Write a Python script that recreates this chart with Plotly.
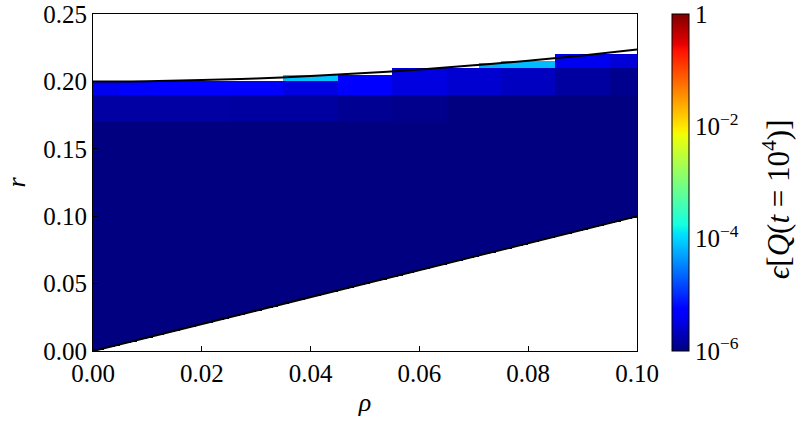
import numpy as np
import plotly.graph_objects as go

# ---- boundary curves of the admissible region ----
rho_bound = [0.00, 0.01, 0.02, 0.03, 0.04, 0.05, 0.06, 0.07, 0.08, 0.09, 0.10]
r_upper = [0.2000, 0.2002, 0.2010, 0.2022, 0.2040, 0.2062, 0.2088, 0.2119, 0.2154, 0.2193, 0.2236]
r_lower = [0.00, 0.01, 0.02, 0.03, 0.04, 0.05, 0.06, 0.07, 0.08, 0.09, 0.10]

# ---- coarse cells of the error map: per column, top edge and bands (lower edge, log10 eps) ----
col_edges = [0.000, 0.005, 0.015, 0.025, 0.035, 0.045, 0.055, 0.065, 0.071, 0.075, 0.085, 0.095, 0.100]
top_hi = [0.1998, 0.1998, 0.1998, 0.1998, 0.2055, 0.2048, 0.2100, 0.2100, 0.2138, 0.2153, 0.2203, 0.2200]
top_lo = [0.190, 0.190, 0.190, 0.190, 0.1998, 0.190, 0.190, 0.190, 0.2101, 0.2101, 0.210, 0.210]
top_val = [-5.42, -5.33, -5.33, -5.33, -4.10, -5.32, -5.50, -5.58, -4.20, -4.15, -5.42, -5.55]
mid_lo = [0.170, 0.170, 0.170, 0.170, 0.190, 0.170, 0.170, 0.190, 0.190, 0.190, 0.190, 0.190]
mid_val = [-5.82, -5.82, -5.82, -5.83, -5.50, -5.90, -5.94, -6.00, -5.58, -5.67, -5.83, -5.92]
low_lo = [0.170, 0.170, 0.170, 0.170, 0.170, 0.170, 0.170, 0.190, 0.190, 0.190, 0.190, 0.190]
low_val = [-6.00, -6.00, -6.00, -6.00, -5.83, -6.00, -6.00, -6.00, -6.00, -6.00, -6.00, -6.00]
bulk_val = -6.0

cbar_vals = [-6, -4, -2, 0]
cbar_text = ["10<sup>\u22126</sup>", "10<sup>\u22124</sup>", "10<sup>\u22122</sup>", "1"]

# ---- build the fine table for the heatmap from the arrays above ----
step = 0.001
xc = np.arange(0.0, 0.1, step) + step / 2
yc = np.arange(0.0, 0.25, step) + step / 2
edges = np.array(col_edges)
z = np.full((len(yc), len(xc)), np.nan)
for j, x in enumerate(xc):
    c = min(np.searchsorted(edges, x) - 1, len(top_lo) - 1)
    lo = np.interp(x, rho_bound, r_lower)
    for i, y in enumerate(yc):
        if y < lo or y > top_hi[c]:
            continue
        if y >= top_lo[c]:
            z[i, j] = top_val[c]
        elif y >= mid_lo[c]:
            z[i, j] = mid_val[c]
        elif y >= low_lo[c]:
            z[i, j] = low_val[c]
        else:
            z[i, j] = bulk_val

# matplotlib "jet" colour map
rs = [(0, 0), (0.35, 0), (0.66, 1), (0.89, 1), (1, 0.5)]
gs = [(0, 0), (0.125, 0), (0.375, 1), (0.64, 1), (0.91, 0), (1, 0)]
bs = [(0, 0.5), (0.11, 1), (0.34, 1), (0.65, 0), (1, 0)]
stops = sorted(set([p for p, _ in rs + gs + bs]))
def ch(seg, t):
    return np.interp(t, [p for p, _ in seg], [v for _, v in seg])
jet = [[t, "rgb(%d,%d,%d)" % (round(255 * ch(rs, t)), round(255 * ch(gs, t)), round(255 * ch(bs, t)))] for t in stops]

FONT = "'Liberation Serif', 'Times New Roman', serif"

fig = go.Figure()
fig.add_trace(go.Heatmap(
    x=xc, y=yc, z=z, zmin=-6, zmax=0, colorscale=jet, hoverongaps=False,
    colorbar=dict(
        x=1.0645, xanchor="left", xpad=0, y=0.5, yanchor="middle", len=1.0, lenmode="fraction",
        thickness=17, outlinecolor="black", outlinewidth=1,
        tickvals=cbar_vals, ticktext=cbar_text, ticks="", ypad=0,
        tickfont=dict(family=FONT, size=25, color="black"),
    ),
))
fig.add_trace(go.Scatter(x=rho_bound, y=r_lower, mode="lines",
                         line=dict(color="black", width=2), showlegend=False, hoverinfo="skip"))
fig.add_trace(go.Scatter(x=rho_bound, y=r_upper, mode="lines", line_shape="spline",
                         line=dict(color="black", width=2), showlegend=False, hoverinfo="skip"))

fig.add_annotation(text="<i>\u03f5</i>[<i>Q</i>(<i>t</i> = 10<sup>4</sup>)]",
                   xref="paper", yref="paper", x=1.257, y=0.45, xanchor="center", yanchor="middle",
                   textangle=-90, showarrow=False, font=dict(family=FONT, size=31, color="black"))

fig.update_layout(
    width=797, height=422, margin=dict(l=93, r=160, t=14, b=71, autoexpand=False),
    paper_bgcolor="white", plot_bgcolor="white", showlegend=False,
    font=dict(family=FONT, color="black"),
)
fig.update_xaxes(range=[0, 0.1], tickvals=[0, 0.02, 0.04, 0.06, 0.08, 0.10],
                 ticktext=["0.00", "0.02", "0.04", "0.06", "0.08", "0.10"],
                 ticks="inside", ticklen=5, tickcolor="black", showgrid=False, zeroline=False,
                 showline=True, linecolor="black", linewidth=1, mirror=True, automargin=False,
                 tickfont=dict(family=FONT, size=25), title=dict(text="<i>\u03c1</i>", font=dict(family=FONT, size=26), standoff=6))
fig.update_yaxes(range=[0, 0.25], tickvals=[0, 0.05, 0.10, 0.15, 0.20, 0.25],
                 ticktext=["0.00", "0.05", "0.10", "0.15", "0.20", "0.25"],
                 ticks="inside", ticklen=5, tickcolor="black", showgrid=False, zeroline=False,
                 showline=True, linecolor="black", linewidth=1, mirror=True, automargin=False,
                 tickfont=dict(family=FONT, size=25), title=dict(text="<i>r</i>", font=dict(family=FONT, size=26), standoff=10))

fig.write_html("out.html", config={"displayModeBar": False},
               post_script="document.body.style.margin='0';")
